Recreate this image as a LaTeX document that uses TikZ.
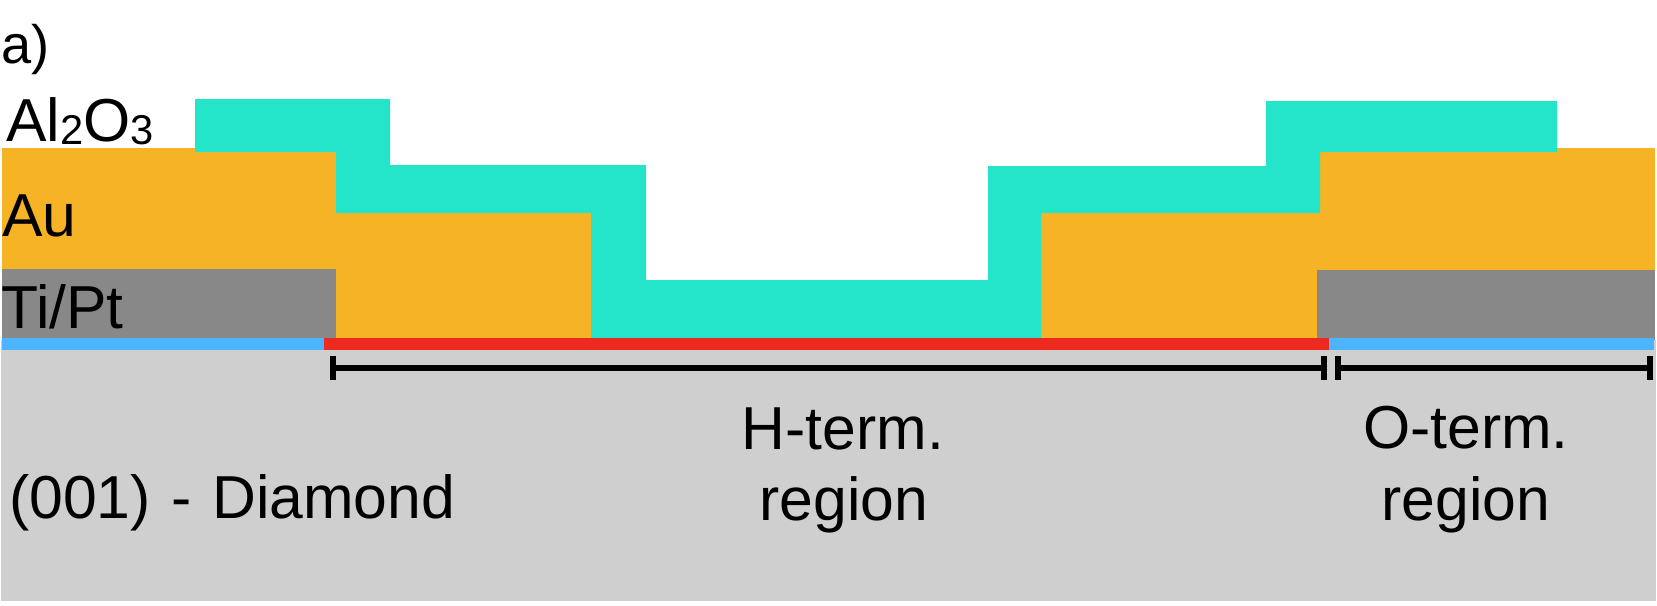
\documentclass[tikz,border=0pt]{standalone}
\usepackage{fontspec}
\setmainfont{Liberation Sans}
\definecolor{tealc}{HTML}{24E4C9}
\definecolor{auc}{HTML}{F6B325}
\definecolor{grayc}{HTML}{888888}
\definecolor{bluec}{HTML}{4DB5FF}
\definecolor{redc}{HTML}{EC2A1F}
\definecolor{diac}{HTML}{CFCFCF}
\newcommand{\subdig}[1]{\raisebox{-1.8pt}{\fontsize{25pt}{25pt}\selectfont #1}}
\tikzset{x=0.6pt,y=-0.6pt,
 lab/.style={inner sep=0pt,font=\fontsize{36.4pt}{42pt}\selectfont,text=black},
 bar/.style={line width=3.6pt,draw=black},
 tick/.style={line width=3.6pt,draw=black}}
\begin{document}
\begin{tikzpicture}
\useasboundingbox (0,0) rectangle (1657,605);
\fill[diac] (1,340) rectangle (1656,601);
\fill[grayc] (2,269) rectangle (336,339);
\fill[grayc] (1317,270) rectangle (1655,340);
\fill[auc] (2,148) rectangle (336,269);
\fill[auc] (336,213) rectangle (591,338);
\fill[auc] (1041,213) rectangle (1317,338);
\fill[auc] (1317,148) rectangle (1655,270);
\fill[tealc] (195,99) -- (390,99) -- (390,165) -- (646,165) -- (646,280) -- (988,280) -- (988,166) -- (1266,166) -- (1266,101) -- (1557,101) -- (1557,152) -- (1320,152) -- (1320,213) -- (1041,213) -- (1041,338) -- (591,338) -- (591,213) -- (336,213) -- (336,152) -- (195,152) -- cycle;
\fill[bluec] (2,338) rectangle (324,350);
\fill[redc] (324,338) rectangle (1329,350);
\fill[bluec] (1329,338) rectangle (1654,350);
\coordinate (h1) at (333,368);
\coordinate (h2) at (1324,368);
\coordinate (o1) at (1338,368);
\coordinate (o2) at (1650,368);
\draw[bar] (h1) -- (h2);
\draw[bar] (o1) -- (o2);
\draw[tick] (333,356) -- (333,380);
\draw[tick] (1324,356) -- (1324,380);
\draw[tick] (1338,356) -- (1338,380);
\draw[tick] (1650,356) -- (1650,380);
\node[lab,anchor=base west,font=\fontsize{32.5pt}{38pt}\selectfont] (a) at (1,63) {a)};
\node[lab,anchor=base west] (al) at (6,141) {Al\subdig{2}O\subdig{3}};
\node[lab,anchor=base west] (au) at (2,236) {Au};
\node[lab,anchor=base west] (ti) at (1,328) {Ti/Pt};
\node[lab,anchor=base west] (dia) at (9,518) {(001)\hspace{2pt} - \hspace{2.5pt}Diamond};
\node[lab,anchor=base] (h) at (843,449) {H-term.};
\node[lab,anchor=base] (hr) at (844,520) {region};
\node[lab,anchor=base] (o) at (1466,448) {O-term.};
\node[lab,anchor=base] (or) at (1466,520) {region};
\end{tikzpicture}
\end{document}
